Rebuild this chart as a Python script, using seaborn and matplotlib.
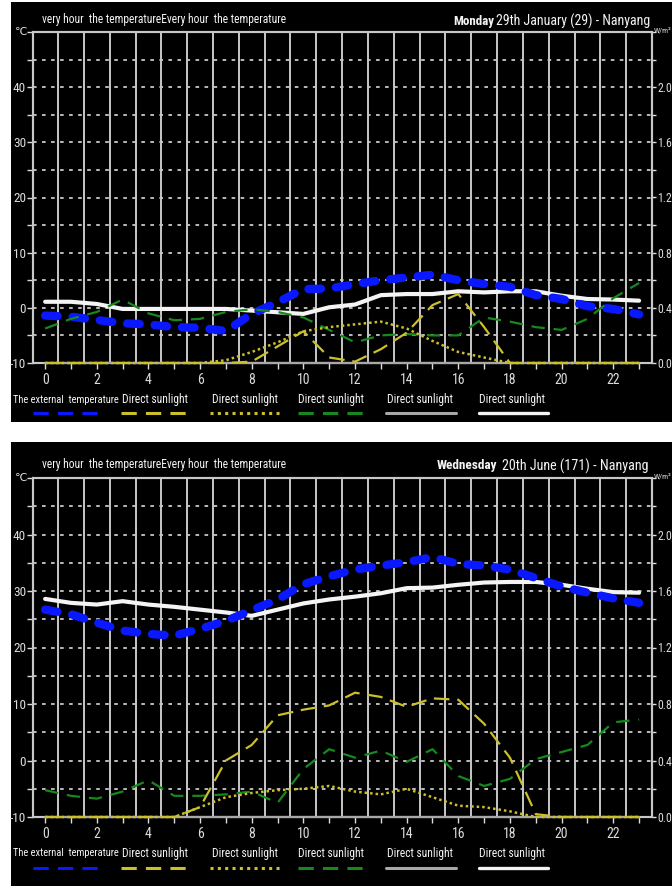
import numpy as np
import pandas as pd
import matplotlib
matplotlib.use("Agg")
import matplotlib.pyplot as plt
import seaborn as sns
from matplotlib.patches import Rectangle
from matplotlib.lines import Line2D
from matplotlib.ticker import MultipleLocator, FixedLocator, FuncFormatter
from matplotlib import font_manager as fm

# ---------------- data ----------------
hours = list(range(24))

# Monday 29th January
mon_ext_temp = [-1.4, -1.6, -2.2, -2.8, -3.0, -3.5, -3.6, -4.2, -1.1, 1.0, 3.4, 3.5,
                4.3, 5.0, 5.5, 6.0, 5.0, 4.3, 3.8, 2.3, 1.6, 0.3, -0.2, -1.2]
mon_white = [1.1, 1.1, 0.7, -0.2, -0.2, -0.2, -0.2, -0.2, -0.5, -0.8, -1.1, 0.1,
             0.6, 2.3, 2.5, 2.5, 3.0, 2.8, 3.0, 3.0, 2.2, 1.6, 1.5, 1.3]
mon_sun_dash = [0, 0, 0, 0, 0, 0, 0, 0, 0.01, 0.12, 0.23, 0.04,
                0.01, 0.10, 0.22, 0.42, 0.50, 0.26, 0, 0, 0, 0, 0, 0]
mon_sun_dot = [0, 0, 0, 0, 0, 0, 0, 0.02, 0.08, 0.15, 0.23, 0.26,
               0.28, 0.30, 0.25, 0.16, 0.08, 0.04, 0, 0, 0, 0, 0, 0]
mon_sun_green = [0.25, 0.32, 0.37, 0.46, 0.36, 0.31, 0.32, 0.37, 0.39, 0.37, 0.33, 0.24,
                 0.15, 0.20, 0.21, 0.20, 0.20, 0.33, 0.30, 0.26, 0.24, 0.32, 0.47, 0.58]
mon_sun_gray = [0] * 24

# Wednesday 20th June
wed_ext_temp = [26.7, 25.9, 24.4, 23.0, 22.4, 22.1, 23.3, 24.7, 26.6, 28.5, 31.2, 32.6,
                33.8, 34.5, 35.1, 36.0, 34.8, 34.5, 33.8, 32.3, 30.8, 29.7, 28.7, 27.9]
wed_white = [28.6, 27.9, 27.6, 28.2, 27.6, 27.2, 26.7, 26.2, 25.6, 26.7, 27.8, 28.5,
             29.0, 29.6, 30.5, 30.6, 31.1, 31.5, 31.6, 31.6, 31.1, 30.4, 29.8, 29.7]
wed_sun_dash = [0, 0, 0, 0, 0, 0, 0.07, 0.40, 0.51, 0.72, 0.76, 0.79,
                0.88, 0.85, 0.78, 0.84, 0.83, 0.66, 0.42, 0.02, 0, 0, 0, 0]
wed_sun_dot = [0, 0, 0, 0, 0, 0, 0.07, 0.14, 0.17, 0.19, 0.20, 0.22,
               0.18, 0.16, 0.20, 0.14, 0.08, 0.07, 0.04, 0, 0, 0, 0, 0]
wed_sun_green = [0.19, 0.15, 0.13, 0.18, 0.26, 0.15, 0.15, 0.16, 0.18, 0.10, 0.34, 0.48,
                 0.42, 0.47, 0.39, 0.48, 0.29, 0.22, 0.27, 0.41, 0.46, 0.51, 0.67, 0.69]
wed_sun_gray = [0] * 24

x_tick_labels = [str(h) if h % 2 == 0 else "" for h in hours]
legend_labels = ["The external  temperature", "Direct sunlight", "Direct sunlight",
                 "Direct sunlight", "Direct sunlight", "Direct sunlight"]
header_text = "very hour  the temperatureEvery hour  the temperature"
day_names = ["Monday", "Wednesday"]
date_texts = ["29th January (29) - Nanyang", "20th June (171) - Nanyang"]

# ---------------- style ----------------
sns.set_theme(style="dark")
names = {f.name for f in fm.fontManager.ttflist}
narrow = [n for n in ["Liberation Sans Narrow", "Arial Narrow", "Roboto Condensed",
                      "Open Sans Condensed"] if n in names]
plt.rcParams['font.family'] = narrow + ['DejaVu Sans']
if not narrow:
    plt.rcParams['font.stretch'] = 'condensed'

W, H = 672, 886
def fx(px):
    return px / W
def fy(py):
    return 1 - py / H

BLUE = "#0a18ff"
YELLOW = "#cbbf2a"
GREEN = "#17891c"
WHITE = "#f4f4f4"
GRAY = "#a8a8a8"
GRID = "#c8c8c8"
TXT = "#dcdcdc"

fig = plt.figure(figsize=(6.72, 8.86), dpi=100, facecolor="white")

panels = [
    dict(bg=(11, 2, 672, 422), plot=(33, 32, 652, 363), title_y=20,
         leg_text_y=400, leg_line_y=413,
         temp=mon_ext_temp, white=mon_white, dash=mon_sun_dash, dot=mon_sun_dot,
         green=mon_sun_green, gray=mon_sun_gray, day=day_names[0], date=date_texts[0],
         day_x=453, date_x=496, day_fs=9.4, date_fs=10.0),
    dict(bg=(11, 442, 672, 886), plot=(33, 478, 652, 817), title_y=465,
         leg_text_y=853, leg_line_y=868,
         temp=wed_ext_temp, white=wed_white, dash=wed_sun_dash, dot=wed_sun_dot,
         green=wed_sun_green, gray=wed_sun_gray, day=day_names[1], date=date_texts[1],
         day_x=437, date_x=502, day_fs=9.6, date_fs=10.2),
]

legend_styles = [
    dict(color=BLUE, lw=2.2, ls=(0, (5, 3))),
    dict(color=YELLOW, lw=2.2, ls=(0, (5, 3))),
    dict(color=YELLOW, lw=2.2, ls=(0, (1, 1.4))),
    dict(color=GREEN, lw=2.2, ls=(0, (5, 3))),
    dict(color=GRAY, lw=2.2, ls="-"),
    dict(color=WHITE, lw=2.4, ls="-"),
]
legend_text_x = [13, 122, 212, 298, 387, 479]
legend_text_fs = [7.6, 8.3, 8.3, 8.3, 8.3, 8.3]
legend_line_x = [(33, 103), (121, 192), (210, 280), (298, 369), (386, 456), (479, 548)]

for p in panels:
    bx0, by0, bx1, by1 = p["bg"]
    fig.patches.append(Rectangle((fx(bx0), fy(by1)), (bx1 - bx0) / W, (by1 - by0) / H,
                                 transform=fig.transFigure, facecolor="black",
                                 edgecolor="none", zorder=-5))
    x0, y0, x1, y1 = p["plot"]
    ax = fig.add_axes([fx(x0), fy(y1), (x1 - x0) / W, (y1 - y0) / H])
    ax.set_facecolor("black")
    ax2 = ax.twinx()

    df = pd.DataFrame({"hour": hours, "temp": p["temp"], "white": p["white"],
                       "dash": p["dash"], "dot": p["dot"], "green": p["green"],
                       "gray": p["gray"]})

    # left-axis series
    sns.lineplot(data=df, x="hour", y="white", ax=ax, color=WHITE, lw=3.0,
                 legend=False, zorder=4)
    sns.lineplot(data=df, x="hour", y="temp", ax=ax, color=BLUE, lw=6.0,
                 linestyle=(0, (1.5, 1.8)), dash_capstyle="round", legend=False,
                 zorder=5)
    # right-axis (sunlight) series
    sns.lineplot(data=df, x="hour", y="gray", ax=ax2, color=GRAY, lw=1.6, legend=False,
                 zorder=3, clip_on=False)
    sns.lineplot(data=df, x="hour", y="green", ax=ax2, color=GREEN, lw=1.6,
                 linestyle=(0, (6, 4)), legend=False, zorder=3, clip_on=False)
    sns.lineplot(data=df, x="hour", y="dot", ax=ax2, color=YELLOW, lw=1.8,
                 linestyle=(0, (1, 1.2)), legend=False, zorder=3, clip_on=False)
    sns.lineplot(data=df, x="hour", y="dash", ax=ax2, color=YELLOW, lw=1.6,
                 linestyle=(0, (7, 3.5)), legend=False, zorder=3, clip_on=False)

    for a in (ax, ax2):
        a.set_xlim(-0.47, 23.5)
        a.set_xlabel("")
        a.set_ylabel("")
    ax.set_ylim(-10, 50)
    ax2.set_ylim(0, 2.4)

    # x axis
    ax.set_xticks(hours)
    ax.set_xticklabels(x_tick_labels)
    ax.xaxis.set_minor_locator(FixedLocator(np.arange(0.5, 23, 1.0)))
    ax.tick_params(axis="x", which="major", direction="out", length=4, width=1,
                   color=TXT, labelcolor=TXT, labelsize=10, pad=3, bottom=True)
    ax.tick_params(axis="x", which="minor", length=0)
    ax.grid(False)
    ax.grid(True, axis="x", which="minor", color=GRID, lw=1.4, ls="-")
    ax.grid(True, axis="y", which="major", color=GRID, lw=1.3, ls=(0, (2, 3)))
    ax.set_axisbelow(True)

    # left y axis
    ax.yaxis.set_major_locator(MultipleLocator(5))
    ax.yaxis.set_major_formatter(FuncFormatter(
        lambda v, pos: f"{v:.0f}" if (round(v) % 10 == 0 and v < 45) else ""))
    ax.tick_params(axis="y", direction="out", length=4, width=1, color=TXT,
                   labelcolor=TXT, labelsize=9.5, pad=1, left=True)

    # right y axis
    ax2.yaxis.set_major_locator(MultipleLocator(0.2))
    ax2.yaxis.set_major_formatter(FuncFormatter(
        lambda v, pos: f"{v:.1f}" if (round(v * 10) % 4 == 0 and v < 2.3) else ""))
    ax2.tick_params(axis="y", direction="out", length=3, width=1, color=TXT,
                    labelcolor=TXT, labelsize=8.5, pad=1, right=True)
    ax2.grid(False)

    for a in (ax, ax2):
        for s in a.spines.values():
            s.set_color(GRID)
            s.set_linewidth(1.5)
            s.set_visible(True)

    # header texts
    fig.text(fx(42), fy(p["title_y"]), header_text, color=WHITE, fontsize=8.3,
             va="center", ha="left")
    fig.text(fx(p["day_x"]), fy(p["title_y"] + 1), p["day"], color=WHITE,
             fontsize=p["day_fs"], fontweight="bold", va="center", ha="left")
    fig.text(fx(p["date_x"]), fy(p["title_y"] + 1), p["date"], color=WHITE,
             fontsize=p["date_fs"], va="center", ha="left")
    fig.text(fx(15), fy(y0), "℃", color=TXT, fontsize=8, va="center", ha="left",
             family=["DejaVu Sans"])
    fig.text(fx(654), fy(y0 - 2), "W/m²", color=TXT, fontsize=5.8, va="center",
             ha="left")

    # legend
    for lab, tx, fs, (lx0, lx1), st in zip(legend_labels, legend_text_x, legend_text_fs,
                                           legend_line_x, legend_styles):
        fig.text(fx(tx), fy(p["leg_text_y"]), lab, color=WHITE, fontsize=fs,
                 va="center", ha="left")
        fig.add_artist(Line2D([fx(lx0), fx(lx1)], [fy(p["leg_line_y"])] * 2,
                              transform=fig.transFigure, color=st["color"],
                              lw=st["lw"], linestyle=st["ls"]))

fig.savefig("out.png", dpi=100, facecolor="white")
